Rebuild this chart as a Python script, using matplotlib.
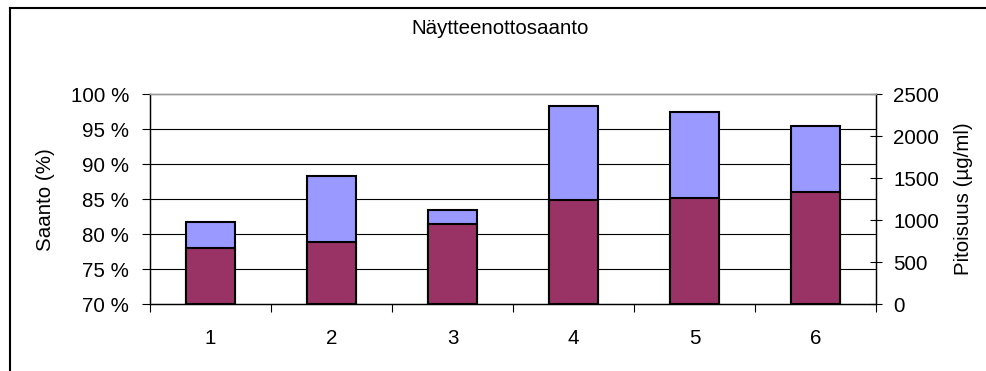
import matplotlib
matplotlib.use("Agg")
import matplotlib.pyplot as plt
from matplotlib.lines import Line2D
from matplotlib.ticker import FuncFormatter, FixedLocator
import numpy as np

plt.rcParams['font.family'] = ['Liberation Sans', 'DejaVu Sans']

# Data
categories = ['1', '2', '3', '4', '5', '6']
saanto = [81.7, 88.3, 83.4, 98.3, 97.4, 95.4]          # %
pitoisuus = [668, 739, 954, 1236, 1260, 1335]          # µg/ml

W, H = 986, 371
fig = plt.figure(figsize=(W / 100, H / 100), dpi=100)
fig.patch.set_facecolor('white')

left, right = 150 / W, 876 / W
bottom, top = 1 - 304 / H, 1 - 94.3 / H
ax = fig.add_axes([left, bottom, right - left, top - bottom])
ax2 = ax.twinx()

x = np.arange(len(categories))
bw = 0.41
fs = 14.8

# Saanto bars on the primary axis
ax.bar(x, saanto, width=bw, color='#9999FF', edgecolor='black', linewidth=1.5, zorder=2)
ax.set_ylim(70, 100)
ax.set_xlim(-0.5, len(categories) - 0.5)
ax.set_axisbelow(True)
for v in [75, 80, 85, 90, 95]:
    ax.axhline(v, color='black', linewidth=0.8, zorder=1)

# Pitoisuus bars on the secondary axis, drawn in front
ax2.bar(x, pitoisuus, width=bw, color='#993366', edgecolor='black', linewidth=1.5, zorder=3)
ax2.set_ylim(0, 2500)
ax2.set_yticks(np.arange(0, 2501, 500))

ax.set_yticks(np.arange(70, 101, 5))
ax.yaxis.set_major_formatter(FuncFormatter(lambda v, p: f"{int(round(v))} %"))

# Category boundaries as ticks, labels at centres
ax.xaxis.set_major_locator(FixedLocator(np.arange(-0.5, len(categories), 1.0)))
ax.xaxis.set_major_formatter(FuncFormatter(lambda v, p: ''))
ax.xaxis.set_minor_locator(FixedLocator(x))
ax.set_xticklabels(categories, minor=True)
ax.tick_params(axis='x', which='major', direction='out', length=6, width=0.8, color='black')
ax.tick_params(axis='x', which='minor', length=0, pad=18, labelsize=fs)
ax.tick_params(axis='y', direction='out', length=6, width=0.8, pad=9, labelsize=fs)
ax2.tick_params(axis='y', direction='inout', length=9, width=0.8, pad=8, labelsize=fs)

for a in (ax, ax2):
    a.spines['top'].set_color('#999999')
    a.spines['top'].set_linewidth(1.0)
    for s in ('left', 'right', 'bottom'):
        a.spines[s].set_color('black')
        a.spines[s].set_linewidth(0.9)
    a.patch.set_visible(False)
ax.patch.set_visible(True)
ax.patch.set_facecolor('white')

ax.set_ylabel('Saanto (%)', fontsize=fs)
ax.yaxis.set_label_coords((55 - 150) / 726, 0.5)
ax2.set_ylabel('Pitoisuus (µg/ml)', fontsize=fs)
ax2.yaxis.set_label_coords((954 - 150) / 726, 0.5)

fig.text(500 / W, 1 - 28 / H, 'Näytteenottosaanto', ha='center', va='center', fontsize=fs)

# Chart area frame (left and top edges)
fig.add_artist(Line2D([10 / W, 10 / W], [0, 1 - 8 / H], transform=fig.transFigure,
                      color='black', linewidth=1.5))
fig.add_artist(Line2D([10 / W, 1], [1 - 8 / H, 1 - 8 / H], transform=fig.transFigure,
                      color='black', linewidth=1.5))

fig.savefig('out.png', dpi=100)
